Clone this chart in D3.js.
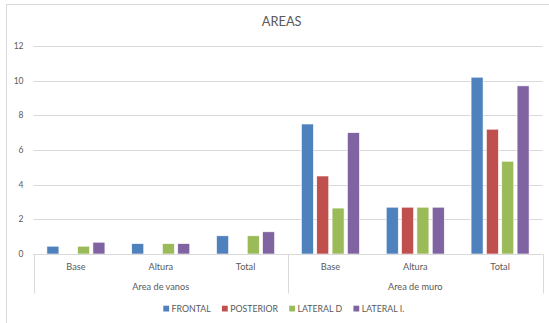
<!DOCTYPE html>
<html><head><meta charset="utf-8">
<script src="https://cdn.jsdelivr.net/npm/d3@7/dist/d3.min.js"></script>
<style>body{margin:0;background:#fff}svg{display:block}text{font-family:Lato,"Open Sans",sans-serif;fill:#595959}</style>
</head><body><svg id="c" width="549" height="323"></svg>
<script>
const title = "AREAS";
const groups = ["Area de vanos", "Area de muro"];
const subcats = ["Base", "Altura", "Total"];
const series = ["FRONTAL", "POSTERIOR", "LATERAL D", "LATERAL I."];
const colors = ["#4F81BD", "#C0504D", "#9BBB59", "#8064A2"];
// values per category (group|subcat), in series order
const frontal   = [0.45, 0.6, 1.05, 7.5, 2.7, 10.2];
const posterior = [0,    0,   0,    4.5, 2.7, 7.2];
const lateralD  = [0.45, 0.6, 1.05, 2.65, 2.7, 5.35];
const lateralI  = [0.68, 0.6, 1.28, 7.0, 2.7, 9.7];
const yTicks = [0, 2, 4, 6, 8, 10, 12];

const values = [frontal, posterior, lateralD, lateralI];
const cats = [];
groups.forEach(g => subcats.forEach(s => cats.push(g + "|" + s)));

const svg = d3.select("#c");
const L = 33.5, R = 542.5, T = 46, B = 254;

// chart border
svg.append("rect").attr("x", 6.5).attr("y", 4.5).attr("width", 560).attr("height", 340)
  .attr("fill", "none").attr("stroke", "#d9d9d9").attr("stroke-width", 1);

const x0 = d3.scaleBand().domain(cats).range([L, R]).paddingInner(0).paddingOuter(0);
const x1 = d3.scaleBand().domain(series).range([0, x0.bandwidth()]).paddingInner(0.217).paddingOuter(0.874);
const y = d3.scaleLinear().domain([0, 12]).range([B, T]);

// gridlines
svg.append("g").selectAll("line").data(yTicks.filter(d => d > 0)).join("line")
  .attr("x1", L).attr("x2", R).attr("y1", d => Math.round(y(d)) + 0.5).attr("y2", d => Math.round(y(d)) + 0.5)
  .attr("stroke", "#d9d9d9").attr("stroke-width", 1);

// y-axis labels
svg.append("g").selectAll("text").data(yTicks).join("text")
  .attr("x", 23.5).attr("y", d => y(d) + 3).attr("text-anchor", "end")
  .attr("font-size", 8.5).text(d => d);

// bars
const gBars = svg.append("g");
series.forEach((s, si) => {
  gBars.append("g").selectAll("rect").data(cats.map((c, ci) => ({c, v: values[si][ci]}))).join("rect")
    .attr("x", d => x0(d.c) + x1(s)).attr("width", x1.bandwidth())
    .attr("y", d => y(d.v)).attr("height", d => B - y(d.v))
    .attr("fill", colors[si]).attr("stroke", "#fff").attr("stroke-width", d => d.v > 0 ? 0.6 : 0);
});

// axis line
svg.append("line").attr("x1", L).attr("x2", R).attr("y1", B + 0.5).attr("y2", B + 0.5)
  .attr("stroke", "#d9d9d9").attr("stroke-width", 1);

// group separators
const sepX = [L, x0(groups[1] + "|" + subcats[0]), R];
svg.append("g").selectAll("line").data(sepX).join("line")
  .attr("x1", d => Math.round(d) + 0.5).attr("x2", d => Math.round(d) + 0.5)
  .attr("y1", B).attr("y2", 293.5).attr("stroke", "#d9d9d9").attr("stroke-width", 1);

// subcategory labels
svg.append("g").selectAll("text").data(cats).join("text")
  .attr("x", d => x0(d) + x0.bandwidth() / 2).attr("y", 270).attr("text-anchor", "middle")
  .attr("font-size", 9.2).text(d => d.split("|")[1]);

// group labels
svg.append("g").selectAll("text").data(groups).join("text")
  .attr("x", g => (x0(g + "|" + subcats[0]) + x0(g + "|" + subcats[2]) + x0.bandwidth()) / 2)
  .attr("y", 290.2).attr("text-anchor", "middle").attr("font-size", 9.2).text(g => g);

// title
svg.append("text").attr("x", 281.7).attr("y", 26.3).attr("text-anchor", "middle")
  .attr("font-size", 12.8).text(title);

// legend
const lg = svg.append("g");
let lx = 163.3;
series.forEach((s, i) => {
  lg.append("rect").attr("x", lx).attr("y", 305.7).attr("width", 5.8).attr("height", 5.8).attr("fill", colors[i]);
  const t = lg.append("text").attr("x", lx + 8.2).attr("y", 311.6).attr("font-size", 8.8).text(s);
  lx += 8.2 + t.node().getComputedTextLength() + 11.2;
});
</script></body></html>
